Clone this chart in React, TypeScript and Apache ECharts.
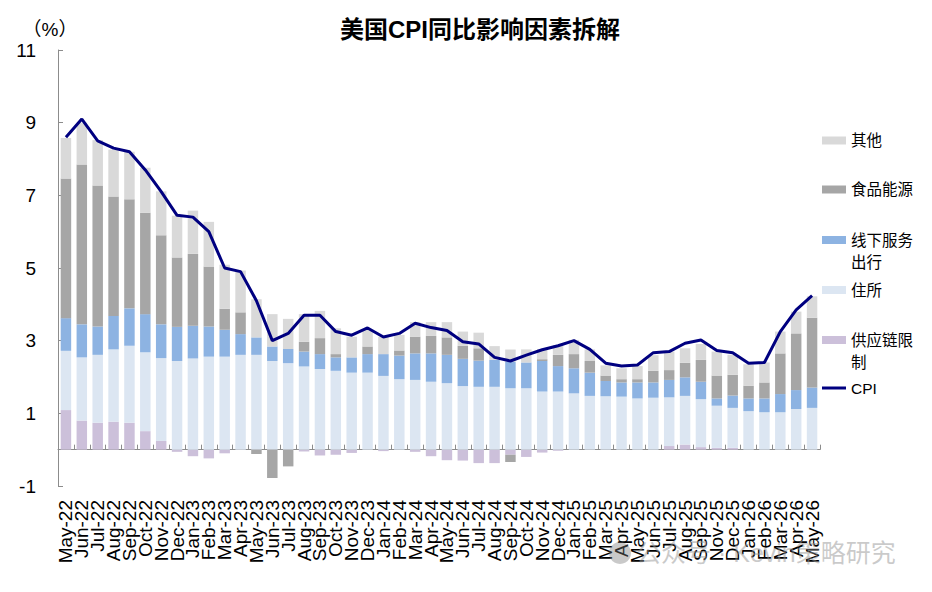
import React, { useEffect, useRef } from "react";
import * as echarts from "echarts";

// Monthly categories (no Oct-25 print)
const months = [
  "May-22", "Jun-22", "Jul-22", "Aug-22", "Sep-22", "Oct-22", "Nov-22", "Dec-22",
  "Jan-23", "Feb-23", "Mar-23", "Apr-23", "May-23", "Jun-23", "Jul-23", "Aug-23",
  "Sep-23", "Oct-23", "Nov-23", "Dec-23", "Jan-24", "Feb-24", "Mar-24", "Apr-24",
  "May-24", "Jun-24", "Jul-24", "Aug-24", "Sep-24", "Oct-24", "Nov-24", "Dec-24",
  "Jan-25", "Feb-25", "Mar-25", "Apr-25", "May-25", "Jun-25", "Jul-25", "Aug-25",
  "Sep-25", "Nov-25", "Dec-25", "Jan-26", "Feb-26", "Mar-26", "Apr-26", "May-26",
];

// Contributions to YoY CPI, percentage points
const supplyChain = [
  1.09, 0.8, 0.74, 0.77, 0.74, 0.51, 0.24, -0.06,
  -0.18, -0.24, -0.1, 0, 0, 0, 0, -0.05,
  -0.16, -0.14, -0.09, 0, -0.04, 0, -0.06, -0.18,
  -0.29, -0.3, -0.37, -0.37, -0.14, -0.2, -0.08, -0.03,
  0, 0, 0, 0, 0, 0, 0.1, 0.14,
  0.07, 0.05, 0.05, 0, 0, 0, 0, 0,
];
const shelter = [
  1.63, 1.74, 1.87, 1.99, 2.12, 2.17, 2.28, 2.44,
  2.51, 2.56, 2.56, 2.61, 2.61, 2.44, 2.38, 2.29,
  2.22, 2.17, 2.12, 2.12, 2.03, 1.94, 1.92, 1.87,
  1.83, 1.75, 1.73, 1.73, 1.69, 1.69, 1.6, 1.6,
  1.55, 1.48, 1.47, 1.46, 1.41, 1.43, 1.34, 1.34,
  1.32, 1.16, 1.1, 1.06, 1.03, 1.03, 1.12, 1.15,
];
const servicesTravel = [
  0.9, 0.91, 0.78, 0.92, 1.03, 1.05, 0.93, 0.94,
  0.9, 0.83, 0.74, 0.57, 0.48, 0.4, 0.39, 0.41,
  0.41, 0.37, 0.42, 0.51, 0.6, 0.65, 0.73, 0.78,
  0.78, 0.75, 0.72, 0.74, 0.73, 0.71, 0.84, 0.7,
  0.69, 0.64, 0.42, 0.39, 0.44, 0.42, 0.48, 0.51,
  0.48, 0.2, 0.34, 0.35, 0.38, 0.5, 0.52, 0.56,
];
const foodEnergy = [
  3.84, 4.4, 3.88, 3.29, 3.0, 2.79, 2.45, 1.91,
  1.98, 1.65, 0.58, 0.6, -0.12, -0.78, -0.46, 0.27,
  0.44, 0.09, 0, 0.21, 0, 0.14, 0.46, 0.48,
  0.48, 0.36, 0.34, 0, -0.2, 0, 0.05, 0.31,
  0.39, 0.32, 0.15, 0.09, 0.09, 0.32, 0.27, 0.4,
  0.6, 0.63, 0.57, 0.35, 0.44, 1.12, 1.56, 1.92,
];
const others = [
  1.12, 1.15, 1.25, 1.29, 1.31, 1.24, 1.21, 1.15,
  1.19, 1.23, 1.21, 1.15, 1.05, 0.89, 0.83, 0.76,
  0.75, 0.71, 0.57, 0.46, 0.48, 0.43, 0.4, 0.38,
  0.42, 0.39, 0.43, 0.38, 0.34, 0.36, 0.28, 0.27,
  0.39, 0.32, 0.28, 0.3, 0.36, 0.43, 0.51, 0.4,
  0.44, 0.66, 0.55, 0.59, 0.55, 0.6, 0.6, 0.59,
];
// Headline CPI YoY, %
const cpi = [
  8.6, 9.1, 8.5, 8.3, 8.2, 7.7, 7.1, 6.45,
  6.4, 6.0, 5.0, 4.9, 4.1, 3.0, 3.2, 3.7,
  3.7, 3.25, 3.15, 3.35, 3.1, 3.2, 3.48, 3.36,
  3.28, 2.97, 2.91, 2.54, 2.44, 2.6, 2.75, 2.86,
  3.0, 2.76, 2.38, 2.3, 2.33, 2.67, 2.7, 2.93,
  3.02, 2.73, 2.67, 2.38, 2.4, 3.25, 3.85, 4.24,
];

const FONT = "'Liberation Sans', Arial, 'Noto Sans CJK SC', sans-serif";
const AXIS_GREY = "#8c8c8c";

const COLORS = {
  supply: "#ccc0da",
  shelter: "#dce6f2",
  services: "#8db3e2",
  food: "#a6a6a6",
  other: "#d9d9d9",
  cpi: "#000080",
};

// One legend block per entry so each row sits at its own height.
// Wrapped labels get a leading blank line so the swatch lines up with the first text line.
function legendItem(name: string, top: number, opts: any = {}) {
  return {
    data: [name],
    left: 822,
    top,
    padding: 0,
    orient: "vertical",
    selectedMode: false,
    icon: "rect",
    itemWidth: 24,
    itemHeight: 8,
    formatter: opts.label ?? name,
    textStyle: {
      fontFamily: FONT,
      fontSize: 15.5,
      lineHeight: 22,
      color: "#000",
    },
    ...(opts.extra || {}),
  };
}

export default function App() {
  const ref = useRef<HTMLDivElement>(null);

  useEffect(() => {
    if (!ref.current) return;
    const chart = echarts.init(ref.current, undefined, { renderer: "svg" });

    const bar = (name: string, data: number[], color: string) => ({
      name,
      type: "bar",
      stack: "total",
      data,
      barCategoryGap: "34%",
      itemStyle: { color },
    });

    chart.setOption({
      animation: false,
      backgroundColor: "#fff",
      textStyle: { fontFamily: FONT },
      title: {
        text: "美国CPI同比影响因素拆解",
        left: 340,
        top: 17,
        padding: 0,
        textStyle: { fontFamily: FONT, fontSize: 24, fontWeight: "bold", color: "#000" },
      },
      legend: [
        legendItem("其他", 129.5),
        legendItem("食品能源", 178.5),
        legendItem("线下服务出行", 207, { label: "\n线下服务\n出行" }),
        legendItem("住所", 279),
        legendItem("供应链限制", 307, { label: "\n供应链限\n制" }),
        legendItem("CPI", 377, { extra: { itemHeight: 3 } }),
      ],
      grid: { left: 58, right: 112, top: 50, bottom: 106, containLabel: false, outerBoundsMode: "none" },
      xAxis: {
        type: "category",
        data: months,
        boundaryGap: true,
        axisLine: { onZero: true, lineStyle: { color: AXIS_GREY, width: 1 } },
        axisTick: { show: true, inside: true, length: 5, lineStyle: { color: AXIS_GREY } },
        axisLabel: {
          rotate: 90,
          interval: 0,
          margin: 14,
          fontSize: 19,
          color: "#000",
          fontFamily: FONT,
        },
        splitLine: { show: false },
      },
      yAxis: {
        type: "value",
        min: -1,
        max: 11,
        interval: 2,
        name: "（%）",
        nameLocation: "end",
        nameGap: 11,
        nameTextStyle: { fontFamily: FONT, fontSize: 19, color: "#000", padding: [0, 16, 0, 0] },
        axisLine: { show: true, lineStyle: { color: AXIS_GREY, width: 1 } },
        axisTick: { show: true, inside: true, length: 5, lineStyle: { color: AXIS_GREY } },
        axisLabel: { margin: 22, fontSize: 19, color: "#000", fontFamily: FONT },
        splitLine: { show: false },
      },
      series: [
        bar("供应链限制", supplyChain, COLORS.supply),
        bar("住所", shelter, COLORS.shelter),
        bar("线下服务出行", servicesTravel, COLORS.services),
        bar("食品能源", foodEnergy, COLORS.food),
        bar("其他", others, COLORS.other),
        {
          name: "CPI",
          type: "line",
          data: cpi,
          symbol: "none",
          z: 10,
          lineStyle: { color: COLORS.cpi, width: 3 },
          itemStyle: { color: COLORS.cpi },
        },
      ],
      graphic: [
        {
          type: "circle",
          shape: { cx: 620, cy: 553, r: 11 },
          style: { fill: "rgba(120,120,120,0.4)" },
          z: 100,
        },
        {
          type: "text",
          left: 636,
          top: 540,
          style: {
            text: "公众号 · Kevin策略研究",
            fontFamily: FONT,
            fontSize: 25,
            fill: "rgba(150,150,150,0.5)",
          },
          z: 100,
        },
      ],
    });

    return () => chart.dispose();
  }, []);

  return (
    <div
      ref={ref}
      style={{ position: "fixed", left: 0, top: 0, width: 932, height: 592, background: "#fff" }}
    />
  );
}
